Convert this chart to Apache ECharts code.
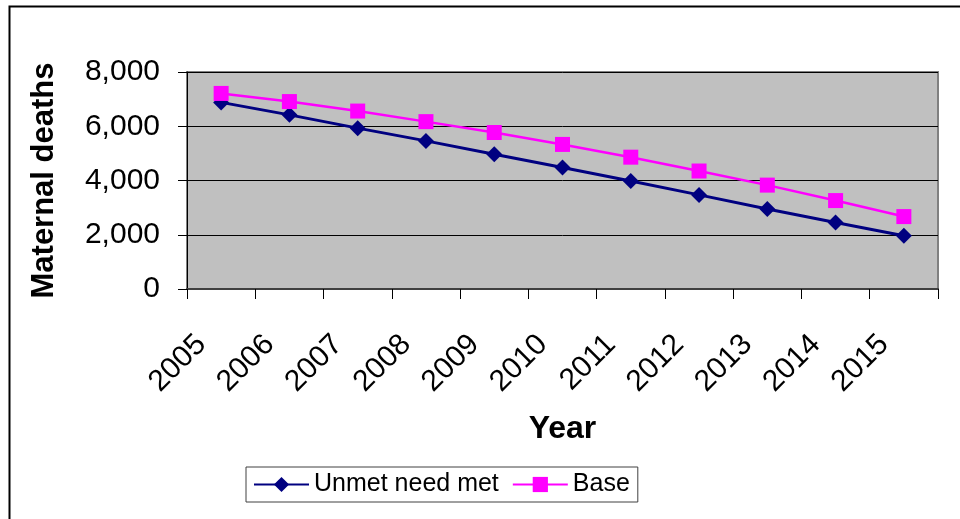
<!DOCTYPE html>
<html>
<head>
<meta charset="utf-8">
<script src="https://cdn.jsdelivr.net/npm/echarts@6/dist/echarts.min.js"></script>
<style>
  html, body { margin: 0; padding: 0; background: #fff; }
  #chart { width: 960px; height: 519px; }
</style>
</head>
<body>
<div id="chart"></div>
<script>
const years = ["2005", "2006", "2007", "2008", "2009", "2010", "2011", "2012", "2013", "2014", "2015"];
const unmetNeedMet = [6880, 6420, 5930, 5460, 4970, 4480, 3980, 3470, 2950, 2450, 1960];
const base = [7210, 6910, 6560, 6170, 5770, 5330, 4860, 4350, 3830, 3260, 2670];
const yTicks = [0, 2000, 4000, 6000, 8000];

const font = "Arial, 'Liberation Sans', sans-serif";

let myChart = echarts.init(document.getElementById("chart"));
myChart.setOption({
  animation: false,
  textStyle: { fontFamily: font },
  graphic: [
    {
      // outer chart-area border
      type: "rect",
      shape: { x: 9.5, y: 6.5, width: 1000, height: 600 },
      style: { fill: "none", stroke: "#000", lineWidth: 2 },
      z: -1,
    },
  ],
  grid: {
    left: 187,
    right: 22,
    top: 72,
    bottom: 230,
    show: true,
    backgroundColor: "#C0C0C0",
    borderColor: "#808080",
    borderWidth: 2,
  },
  legend: {
    left: 246,
    top: 467,
    itemGap: 13,
    itemWidth: 55,
    itemHeight: 19,
    padding: [5, 8, 5, 7],
    borderColor: "#404040",
    borderWidth: 1,
    textStyle: { fontSize: 25, color: "#000", fontFamily: font },
    data: ["Unmet need met", "Base"],
  },
  xAxis: {
    type: "category",
    data: years,
    boundaryGap: true,
    name: "Year",
    nameLocation: "middle",
    nameGap: 124,
    nameTextStyle: { fontSize: 32, fontWeight: "bold", color: "#000" },
    axisLine: { lineStyle: { color: "#404040", width: 2 } },
    axisTick: { show: true, interval: 0, length: 10, lineStyle: { color: "#000" } },
    axisLabel: {
      interval: 0,
      rotate: 45,
      margin: 31,
      padding: [0, 28, 0, 0],
      fontSize: 30,
      color: "#000",
    },
    splitLine: { show: false },
  },
  yAxis: {
    type: "value",
    min: yTicks[0],
    max: yTicks[yTicks.length - 1],
    interval: 2000,
    name: "Maternal deaths",
    nameLocation: "middle",
    nameGap: 127,
    nameTextStyle: { fontSize: 31, fontWeight: "bold", color: "#000" },
    axisLine: { show: true, lineStyle: { color: "#000", width: 1 } },
    axisTick: { show: true, length: 9, lineStyle: { color: "#000" } },
    axisLabel: {
      fontSize: 30,
      color: "#000",
      margin: 27,
      formatter: (v) => v.toLocaleString("en-US"),
    },
    splitLine: { show: true, lineStyle: { color: "#000", width: 1 } },
  },
  series: [
    {
      name: "Unmet need met",
      type: "line",
      data: unmetNeedMet,
      symbol: "diamond",
      symbolSize: 16,
      itemStyle: { color: "#000080" },
      lineStyle: { color: "#000080", width: 3 },
      z: 3,
    },
    {
      name: "Base",
      type: "line",
      data: base,
      symbol: "rect",
      symbolSize: 15,
      itemStyle: { color: "#FF00FF" },
      lineStyle: { color: "#FF00FF", width: 2.5 },
      z: 4,
    },
  ],
});
</script>
</body>
</html>
